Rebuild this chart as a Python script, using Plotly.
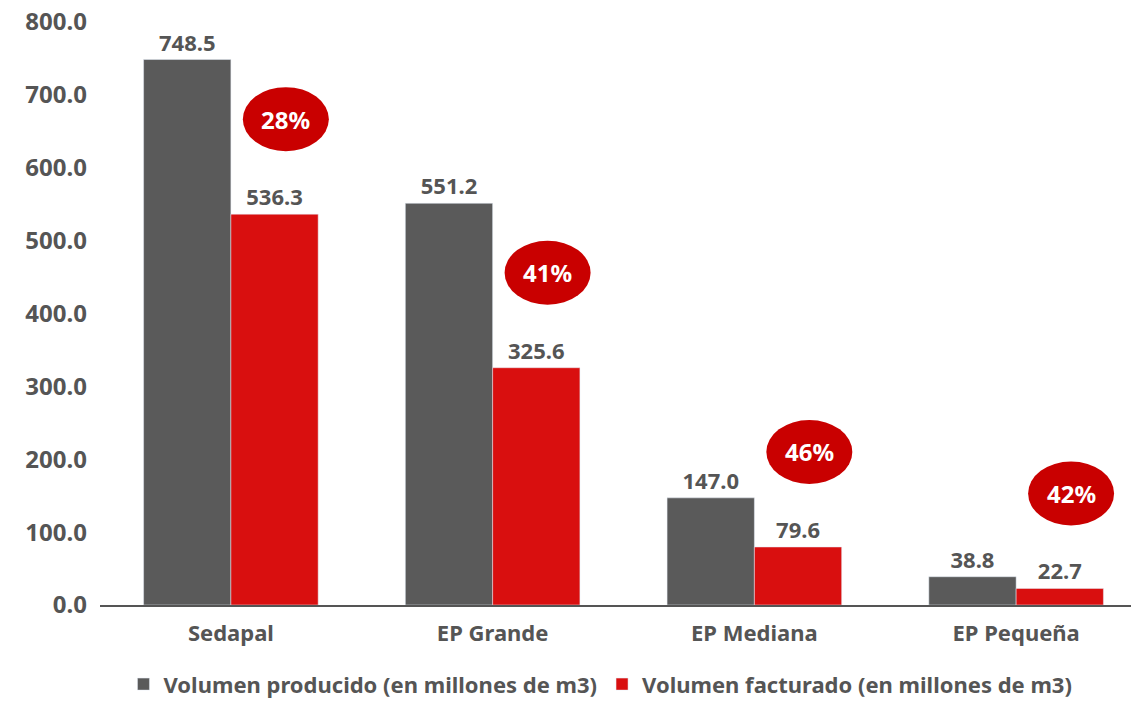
import plotly.graph_objects as go

categorias = ['Sedapal', 'EP Grande', 'EP Mediana', 'EP Pequeña']
producido = [748.5, 551.2, 147.0, 38.8]
facturado = [536.3, 325.6, 79.6, 22.7]
perdidas = ['28%', '41%', '46%', '42%']

gris = '#5a5a5a'
rojo = '#d90f0f'
texto = '#555555'
fuente = 'Noto Sans'

fig = go.Figure()
fig.add_trace(go.Bar(
    x=categorias, y=producido, name='Volumen producido (en millones de m3)',
    marker_color=gris, text=[f'{v:.1f}' for v in producido],
    textposition='outside', cliponaxis=False,
    textfont=dict(size=22, color=texto, family=fuente, weight='bold'),
))
fig.add_trace(go.Bar(
    x=categorias, y=facturado, name='Volumen facturado (en millones de m3)',
    marker_color=rojo, text=[f'{v:.1f}' for v in facturado],
    textposition='outside', cliponaxis=False,
    textfont=dict(size=22, color=texto, family=fuente, weight='bold'),
))

# elipses rojas con el porcentaje, encima de cada barra facturada
for i, (v, p) in enumerate(zip(facturado, perdidas)):
    fig.add_shape(
        type='circle', xref='x', yref='y',
        xsizemode='pixel', ysizemode='pixel',
        xanchor=i + 0.21, yanchor=v,
        x0=-43, x1=43, y0=63, y1=127,
        fillcolor='#c90000', line_width=0, layer='above',
    )
    fig.add_annotation(
        x=i + 0.21, y=v, xref='x', yref='y', text=p, showarrow=False,
        yshift=95, font=dict(size=24, color='white', family=fuente, weight='bold'),
    )

# la página añade 8 px de margen, se compensa aquí
fig.update_layout(
    width=1139, height=701,
    margin=dict(l=92, r=0, t=14, b=104),
    plot_bgcolor='white', paper_bgcolor='white',
    barmode='group', bargap=0.333, bargroupgap=0,
    font=dict(family=fuente, color=texto),
    legend=dict(
        orientation='h', x=0.478, xanchor='center', y=-0.1, yanchor='top',
        font=dict(size=22, color=texto, family=fuente, weight='bold'),
        itemwidth=30,
    ),
    showlegend=True,
)
fig.update_xaxes(
    showline=True, linecolor='#555555', linewidth=2, ticks='',
    automargin=False, ticklabelstandoff=8,
    tickfont=dict(size=22, color=texto, family=fuente, weight='bold'),
)
fig.update_yaxes(
    range=[0, 800], dtick=100, ticklabeloverflow='allow',
    tickformat='.1f', showgrid=False,
    zeroline=False, showline=False, ticklabelstandoff=12, automargin=False,
    tickfont=dict(size=24, color=texto, family=fuente, weight='bold'),
)

fig.write_html('out.html')
